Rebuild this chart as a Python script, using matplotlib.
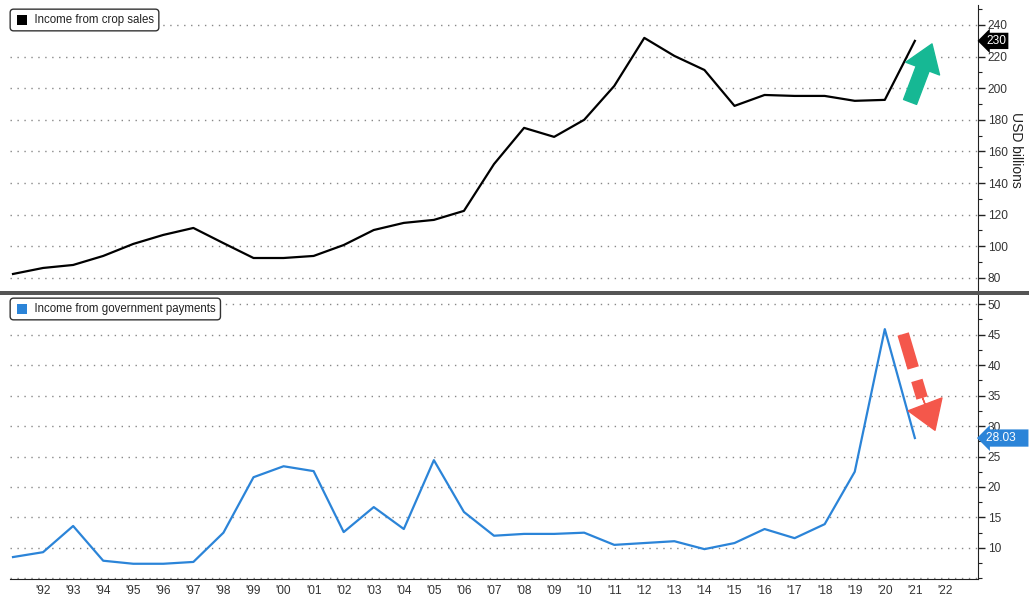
import matplotlib
matplotlib.use("Agg")
import matplotlib.pyplot as plt
from matplotlib.patches import Rectangle
from matplotlib.ticker import MultipleLocator, FixedLocator, FuncFormatter

plt.rcParams['font.family'] = ['Liberation Sans', 'DejaVu Sans']

years = list(range(1991, 2022))
crop_sales = [82.5, 86.3, 88.2, 93.9, 101.5, 107.2, 111.6, 102.0, 92.6, 92.6,
              93.9, 100.8, 110.3, 114.8, 116.7, 122.4, 152.0, 174.9, 169.2, 180.0,
              201.4, 231.8, 220.4, 211.5, 188.8, 195.7, 195.1, 195.1, 192.0, 192.6,
              229.9]
gov_payments = [8.5, 9.3, 13.6, 7.9, 7.4, 7.4, 7.7, 12.5, 21.6, 23.4,
                22.6, 12.6, 16.7, 13.1, 24.4, 15.9, 12.0, 12.3, 12.3, 12.5,
                10.5, 10.8, 11.1, 9.8, 10.8, 13.1, 11.6, 13.9, 22.5, 45.9,
                28.03]
tick_years = list(range(1992, 2023))
crop_label = "Income from crop sales"
gov_label = "Income from government payments"
crop_last = "230"
gov_last = "28.03"

W, H = 1029, 600
fig = plt.figure(figsize=(W / 100, H / 100), dpi=100)

left = 10 / W
right = 978 / W
ax1 = fig.add_axes([left, 1 - 292 / H, right - left, 287 / H])
ax2 = fig.add_axes([left, 1 - 579 / H, right - left, 284 / H])

blue = '#2b84d8'
tick_col = '#333333'
xlim = (1990.9, 2023.1)
tfs = 8.6

for ax in (ax1, ax2):
    ax.set_xlim(*xlim)
    ax.yaxis.tick_right()
    for s in ('left', 'top'):
        ax.spines[s].set_visible(False)
    ax.spines['right'].set_color('#222222')
    ax.spines['bottom'].set_color('#222222')
    ax.tick_params(axis='y', which='major', direction='out', length=5, width=1,
                   colors='#222222', labelcolor=tick_col, labelsize=tfs, pad=2)
    ax.tick_params(axis='y', which='minor', direction='out', length=3, width=0.8,
                   colors='#222222')
    ax.grid(axis='y', which='major', linestyle=(0, (1, 4)), color='#888888', linewidth=1)
    ax.set_axisbelow(True)

# top panel
ax1.plot(years, crop_sales, color='black', linewidth=1.6)
ax1.set_ylim(71.1, 252.6)
ax1.yaxis.set_major_locator(FixedLocator(list(range(80, 241, 20))))
ax1.yaxis.set_minor_locator(MultipleLocator(10))
ax1.spines['bottom'].set_visible(False)
ax1.tick_params(axis='x', which='both', bottom=False, labelbottom=False)
fig.text(1016 / W, 1 - 150 / H, "USD billions", rotation=270, fontsize=10,
         color='#222222', ha='center', va='center')

# bottom panel
ax2.plot(years, gov_payments, color=blue, linewidth=1.6)
ax2.set_ylim(4.9, 51.5)
ax2.yaxis.set_major_locator(FixedLocator([10, 15, 20, 25, 30, 35, 40, 45, 50]))
ax2.yaxis.set_minor_locator(MultipleLocator(2.5))
ax2.xaxis.set_major_locator(FixedLocator(tick_years))
ax2.xaxis.set_major_formatter(FuncFormatter(lambda v, p: "'%02d" % (int(round(v)) % 100)))
ax2.tick_params(axis='x', which='major', direction='out', length=0,
                colors='#222222', labelcolor=tick_col, labelsize=tfs, pad=4)
ax2.axhline(5, color='#888888', linestyle=(0, (1, 4)), linewidth=1, zorder=0.5)

# legends (boxes)
legend_kw = dict(fontsize=8.3, color='#222222', va='center', ha='left', zorder=9,
                 bbox=dict(boxstyle='round,pad=0.42,rounding_size=0.3',
                           facecolor='white', edgecolor='#333333', linewidth=1))
fig.text(15 / W, 1 - 20 / H, "      " + crop_label, **legend_kw)
fig.text(15 / W, 1 - 309 / H, "      " + gov_label, **legend_kw)
fig.patches.append(Rectangle((17 / W, 1 - 25 / H), 10 / W, 10 / H, transform=fig.transFigure,
                             facecolor='black', edgecolor='none', zorder=10))
fig.patches.append(Rectangle((17 / W, 1 - 314 / H), 10 / W, 10 / H, transform=fig.transFigure,
                             facecolor=blue, edgecolor='none', zorder=10))

# divider
fig.patches.append(Rectangle((0, 1 - 295 / H), 1, 4 / H, transform=fig.transFigure,
                             facecolor='#555555', edgecolor='none', zorder=5))

# last value tags
ax1.annotate(crop_last, xy=(1.0, crop_sales[-1]), xycoords=('axes fraction', 'data'),
             xytext=(6, 0), textcoords='offset points', fontsize=tfs, color='white',
             va='center', ha='left', annotation_clip=False, zorder=20,
             bbox=dict(boxstyle='larrow,pad=0.18', facecolor='black', edgecolor='none'))
ax2.annotate(gov_last + "   ", xy=(1.0, gov_payments[-1]), xycoords=('axes fraction', 'data'),
             xytext=(6, 0), textcoords='offset points', fontsize=tfs, color='white',
             va='center', ha='left', annotation_clip=False, zorder=20,
             bbox=dict(boxstyle='larrow,pad=0.22', facecolor=blue, edgecolor='none'))

# arrows
green = '#16b894'
red = '#f4574b'
ax1.annotate('', xy=(2021.57, 228.0), xytext=(2020.84, 191.3),
             arrowprops=dict(arrowstyle='simple,head_length=0.95,head_width=1.3,tail_width=0.5',
                             color=green, mutation_scale=20, shrinkA=0, shrinkB=0))
ax2.annotate('', xy=(2021.24, 34.6), xytext=(2020.61, 45.1),
             arrowprops=dict(arrowstyle='-', lw=8.5, color=red, linestyle=(0, (3.0, 1.1)),
                             capstyle='butt', shrinkA=0, shrinkB=0))
ax2.annotate('', xy=(2021.67, 29.3), xytext=(2021.15, 36.0),
             arrowprops=dict(arrowstyle='simple,head_length=1.0,head_width=1.3,tail_width=0.01',
                             color=red, mutation_scale=20, shrinkA=0, shrinkB=0))

fig.savefig('out.png', dpi=100)
